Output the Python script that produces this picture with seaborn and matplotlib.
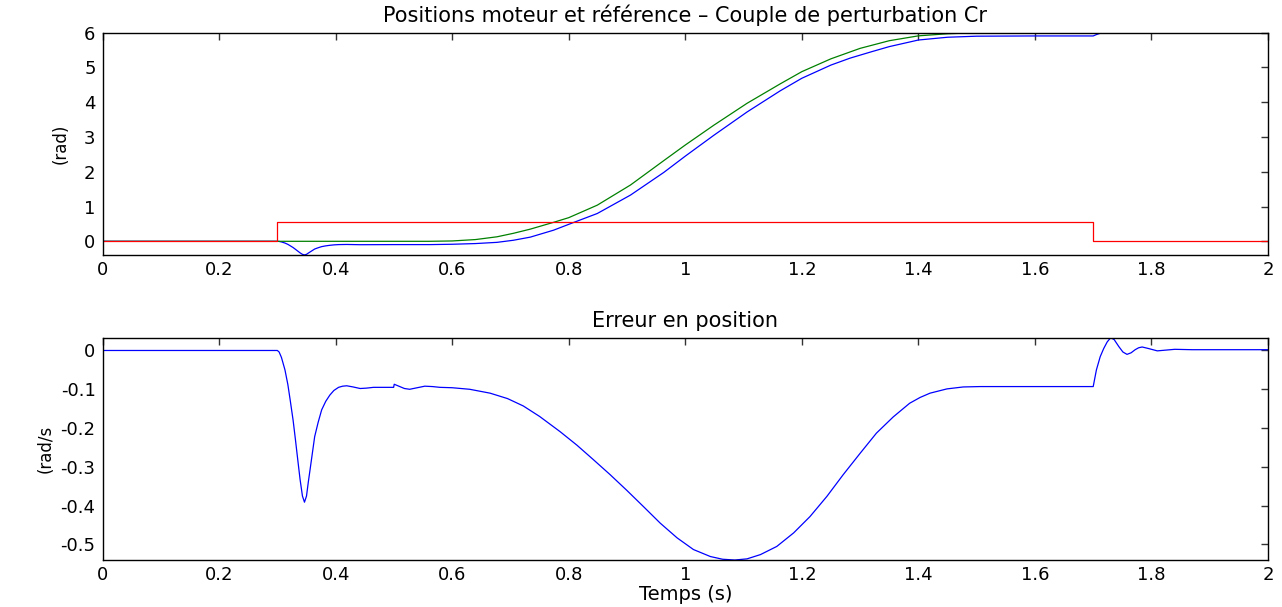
import matplotlib
matplotlib.use("Agg")
import matplotlib.pyplot as plt
import seaborn as sns

# ---------------- data ----------------
t_ref = [0.0, 0.30, 0.50, 0.56, 0.60, 0.64, 0.677, 0.705, 0.734, 0.774, 0.80,
         0.849, 0.906, 0.963, 1.00, 1.049, 1.106, 1.163, 1.20, 1.25, 1.30,
         1.35, 1.40, 1.45, 1.50, 1.55, 2.0]
ref_pos = [0.0, 0.0, 0.0, 0.0, 0.01, 0.05, 0.13, 0.23, 0.35, 0.546, 0.68,
           1.04, 1.62, 2.32, 2.77, 3.34, 3.97, 4.53, 4.88, 5.25, 5.55,
           5.77, 5.91, 5.97, 6.0, 6.0, 6.0]

t_pos = [0.0, 0.300, 0.303, 0.307, 0.313, 0.318, 0.322, 0.327, 0.331, 0.335, 0.339,
         0.343, 0.3465, 0.350, 0.353, 0.356, 0.360, 0.364, 0.370, 0.376, 0.383,
         0.390, 0.397, 0.405, 0.419, 0.442, 0.50, 0.562, 0.60, 0.64, 0.677,
         0.705, 0.734, 0.774, 0.809, 0.849, 0.906, 0.963, 1.00, 1.049, 1.106,
         1.163, 1.20, 1.25, 1.283, 1.319, 1.35, 1.40, 1.45, 1.50, 1.60, 1.70,
         1.706, 1.712, 1.72, 1.73, 1.744, 1.758, 1.785, 1.81, 2.0]
motor_pos = [0.0, 0.0, -0.004, -0.018, -0.05, -0.088, -0.128, -0.18, -0.23, -0.282,
             -0.333, -0.375, -0.391, -0.375, -0.34, -0.308, -0.265, -0.222, -0.185,
             -0.153, -0.131, -0.115, -0.103, -0.095, -0.091, -0.098, -0.095, -0.095,
             -0.085, -0.065, -0.03, 0.03, 0.12, 0.32, 0.546, 0.80, 1.33, 1.98,
             2.45, 3.05, 3.72, 4.33, 4.69, 5.07, 5.27, 5.45, 5.60, 5.79, 5.87,
             5.90, 5.907, 5.907, 5.95, 5.984, 6.01, 6.033, 6.01, 5.99, 6.009,
             6.0, 6.002]

t_cr = [0.0, 0.3, 0.3, 1.7, 1.7, 2.0]
couple_cr = [0.0, 0.0, 0.55, 0.55, 0.0, 0.0]

t_err = [0.0, 0.300, 0.303, 0.307, 0.313, 0.318, 0.322, 0.327, 0.331, 0.335, 0.339,
         0.343, 0.3465, 0.350, 0.353, 0.356, 0.360, 0.364, 0.370, 0.376, 0.383,
         0.390, 0.397, 0.405, 0.412, 0.419, 0.430, 0.442, 0.453, 0.465, 0.480,
         0.4995, 0.5005, 0.510, 0.518, 0.527, 0.540, 0.553, 0.566, 0.579, 0.600,
         0.630, 0.665, 0.695, 0.722, 0.750, 0.785, 0.814, 0.842, 0.871, 0.900,
         0.928, 0.957, 0.986, 1.014, 1.043, 1.064, 1.085, 1.106, 1.129, 1.157,
         1.186, 1.214, 1.243, 1.271, 1.300, 1.328, 1.357, 1.385, 1.403, 1.420,
         1.449, 1.477, 1.506, 1.600, 1.700, 1.7055, 1.712, 1.718, 1.724, 1.730,
         1.736, 1.744, 1.751, 1.758, 1.765, 1.772, 1.778, 1.784, 1.795, 1.810,
         1.825, 1.840, 1.870, 1.900, 2.0]
err_pos = [0.0, 0.0, -0.004, -0.018, -0.05, -0.088, -0.128, -0.18, -0.23, -0.282,
           -0.333, -0.375, -0.391, -0.375, -0.34, -0.308, -0.265, -0.222, -0.185,
           -0.153, -0.131, -0.115, -0.103, -0.095, -0.092, -0.091, -0.094, -0.098,
           -0.097, -0.095, -0.095, -0.095, -0.087, -0.093, -0.098, -0.100, -0.096,
           -0.092, -0.093, -0.095, -0.096, -0.100, -0.110, -0.124, -0.143, -0.170,
           -0.209, -0.244, -0.281, -0.320, -0.361, -0.402, -0.445, -0.483, -0.513,
           -0.531, -0.538, -0.540, -0.537, -0.526, -0.505, -0.470, -0.428, -0.376,
           -0.320, -0.265, -0.213, -0.171, -0.136, -0.121, -0.110, -0.099, -0.094,
           -0.093, -0.093, -0.093, -0.050, -0.016, 0.005, 0.022, 0.033, 0.028,
           0.010, -0.004, -0.010, -0.006, 0.002, 0.007, 0.009, 0.005, -0.001,
           0.001, 0.003, 0.002, 0.002, 0.002]

x_ticks = [0, 0.2, 0.4, 0.6, 0.8, 1.0, 1.2, 1.4, 1.6, 1.8, 2.0]
x_labels = ["0", "0.2", "0.4", "0.6", "0.8", "1", "1.2", "1.4", "1.6", "1.8", "2"]
y1_ticks = [0, 1, 2, 3, 4, 5, 6]
y1_labels = ["0", "1", "2", "3", "4", "5", "6"]
y2_ticks = [-0.5, -0.4, -0.3, -0.2, -0.1, 0.0]
y2_labels = ["-0.5", "-0.4", "-0.3", "-0.2", "-0.1", "0"]

# ---------------- style ----------------
sns.set_theme(style="white")
plt.rcParams["font.family"] = ["DejaVu Sans"]
plt.rcParams.update({
    "text.color": "black",
    "axes.labelcolor": "black",
    "axes.titlecolor": "black",
    "axes.unicode_minus": False,
    "axes.edgecolor": "black",
    "axes.linewidth": 1.0,
    "xtick.direction": "in",
    "ytick.direction": "in",
    "xtick.top": True,
    "ytick.right": True,
    "xtick.major.size": 5,
    "ytick.major.size": 5,
    "xtick.major.width": 1.0,
    "ytick.major.width": 1.0,
    "xtick.color": "#333333",
    "ytick.color": "#333333",
    "xtick.labelcolor": "black",
    "ytick.labelcolor": "black",
    "xtick.labelsize": 13,
    "ytick.labelsize": 13,
    "xtick.major.pad": 4,
    "ytick.major.pad": 5,
})

fig = plt.figure(figsize=(12.82, 6.07), dpi=100)
ax1 = fig.add_axes([0.0800, 0.5799, 0.9091, 0.3662])
ax2 = fig.add_axes([0.0800, 0.0774, 0.9091, 0.3663])

BLUE = (0.0, 0.0, 1.0)
GREEN = (0.0, 0.5, 0.0)
RED = (1.0, 0.0, 0.0)
LW = 0.9

sns.lineplot(x=t_pos, y=motor_pos, ax=ax1, color=BLUE, lw=LW,
             estimator=None, sort=False)
sns.lineplot(x=t_ref, y=ref_pos, ax=ax1, color=GREEN, lw=LW,
             estimator=None, sort=False)
sns.lineplot(x=t_cr, y=couple_cr, ax=ax1, color=RED, lw=LW,
             estimator=None, sort=False)

sns.lineplot(x=t_err, y=err_pos, ax=ax2, color=BLUE, lw=LW,
             estimator=None, sort=False)

for ax in (ax1, ax2):
    ax.set_xlim(0, 2)
    ax.set_xticks(x_ticks, labels=x_labels)
    for s in ax.spines.values():
        s.set_visible(True)
        s.set_color("black")

ax1.set_ylim(-0.394, 6.0)
ax1.set_yticks(y1_ticks, labels=y1_labels)
ax2.set_ylim(-0.54, 0.033)
ax2.set_yticks(y2_ticks, labels=y2_labels)

ax1.set_title("Positions moteur et référence – Couple de perturbation Cr",
              fontsize=15, pad=8)
ax2.set_title("Erreur en position", fontsize=15, pad=8)
ax1.set_ylabel("(rad)", fontsize=12)
ax2.set_ylabel("(rad/s", fontsize=12)
ax1.yaxis.set_label_coords(-0.028, 0.5)
ax2.yaxis.set_label_coords(-0.041, 0.5)
ax2.set_xlabel("Temps (s)", fontsize=14, labelpad=1)

fig.savefig("out.png", dpi=100)
